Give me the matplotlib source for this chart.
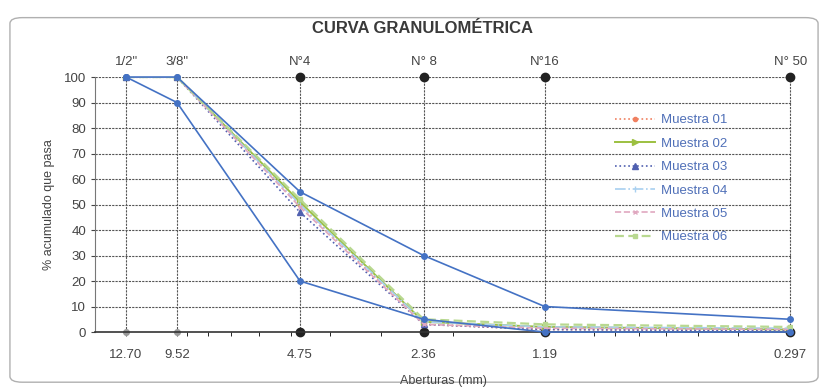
import matplotlib.pyplot as plt
from matplotlib.patches import FancyBboxPatch

plt.rcParams["font.family"] = ["Liberation Sans", "DejaVu Sans"]

# Aperturas de tamices (mm) y nombres
aberturas = [12.70, 9.52, 4.75, 2.36, 1.19, 0.297]
tamices = ['1/2"', '3/8"', 'N°4', 'N° 8', 'N°16', 'N° 50']
etiquetas_x = ["12.70", "9.52", "4.75", "2.36", "1.19", "0.297"]

# Limites del huso (ASTM C33, tamaño 89)
limite_sup = [100, 100, 55, 30, 10, 5]
limite_inf = [100, 90, 20, 5, 0, 0]

# Muestras (% acumulado que pasa)
muestra_01 = [100, 100, 50, 3, 1, 0.5]
muestra_02 = [100, 100, 51, 4, 2, 1]
muestra_03 = [100, 100, 47, 3, 1, 0.5]
muestra_04 = [100, 100, 50, 4, 2, 1.5]
muestra_05 = [100, 100, 49, 3, 1.5, 1]
muestra_06 = [100, 100, 52, 5, 3, 2]

fig = plt.figure(figsize=(8.28, 3.92), dpi=100)
fig.patch.set_facecolor("white")

# Marco redondeado
marco = FancyBboxPatch((0.012, 0.025), 0.976, 0.93, boxstyle="round,pad=0,rounding_size=0.015",
                       transform=fig.transFigure, facecolor="white", edgecolor="#b0b0b0", lw=1.0,
                       zorder=-10)
fig.patches.append(marco)

ax = fig.add_axes([0.1147, 0.153, 0.8418, 0.6505])
ax.set_facecolor("none")
ax.set_xscale("log")
ax.set_xlim(15.14, 0.294)
ax.set_ylim(0, 100)

# Rejilla
grid_style = dict(color="#555555", lw=0.8, ls=(0, (2, 1)), zorder=1)
for y in range(10, 101, 10):
    ax.axhline(y, **grid_style)
for i, x in enumerate(aberturas):
    ax.axvline(x, **grid_style)
    c = "#222222" if i >= 2 else "#999999"
    s = 6 if i >= 2 else 4
    ax.plot([x, x], [0, 100], ls="none", marker="o", ms=s, color=c, zorder=2, clip_on=False)

# Limites
ax.plot(aberturas, limite_sup, color="#4472C4", lw=1.2, marker="o", ms=4, zorder=5, clip_on=False)
ax.plot(aberturas, limite_inf, color="#4472C4", lw=1.2, marker="o", ms=4, zorder=5, clip_on=False)

# Muestras
ax.plot(aberturas, muestra_01, color="#F08060", lw=1.2, ls=":", marker="o", ms=3, label="Muestra 01", zorder=4)
ax.plot(aberturas, muestra_02, color="#9CC040", lw=1.4, ls="-", marker=">", ms=4, label="Muestra 02", zorder=4)
ax.plot(aberturas, muestra_03, color="#5060B0", lw=1.2, ls=":", marker="^", ms=4, label="Muestra 03", zorder=4)
ax.plot(aberturas, muestra_04, color="#A8D0F0", lw=1.2, ls="-.", marker="|", ms=4, label="Muestra 04", zorder=4)
ax.plot(aberturas, muestra_05, color="#E0A8C0", lw=1.2, ls="--", marker="x", ms=3, label="Muestra 05", zorder=4)
ax.plot(aberturas, muestra_06, color="#B8D890", lw=1.6, ls=(0, (4, 2)), marker="s", ms=3, label="Muestra 06", zorder=4)

# Ejes
for s in ["top", "right"]:
    ax.spines[s].set_visible(False)
ax.spines["left"].set_color("#777777")
ax.spines["bottom"].set_color("#333333")
ax.spines["bottom"].set_linewidth(1.2)

ax.set_xticks(aberturas)
ax.set_xticklabels(etiquetas_x)
ax.set_yticks(range(0, 101, 10))
ax.tick_params(axis="both", labelsize=9.5, colors="#444444", length=3)
ax.tick_params(axis="x", which="minor", length=3, labelbottom=False)
ax.tick_params(axis="x", pad=9)

# Nombres de tamices arriba
for x, t in zip(aberturas, tamices):
    ax.text(x, 103.5, t, ha="center", va="bottom", fontsize=9.5, color="#444444")

ax.set_xlabel("Aberturas (mm)", fontsize=9, color="#444444", labelpad=10)
ax.set_ylabel("% acumulado que pasa", fontsize=9, color="#444444", labelpad=6)
fig.text(0.51, 0.928, "CURVA GRANULOMÉTRICA", ha="center", va="center", fontsize=12,
         fontweight="bold", color="#3a3a3a")

leg = ax.legend(loc="upper left", bbox_to_anchor=(0.746, 0.855), frameon=False, fontsize=9.5,
                handlelength=3.0, labelspacing=0.85, handletextpad=0.5, borderpad=0,
                borderaxespad=0)
for txt in leg.get_texts():
    txt.set_color("#5070B8")

fig.savefig("out.png", dpi=100)
